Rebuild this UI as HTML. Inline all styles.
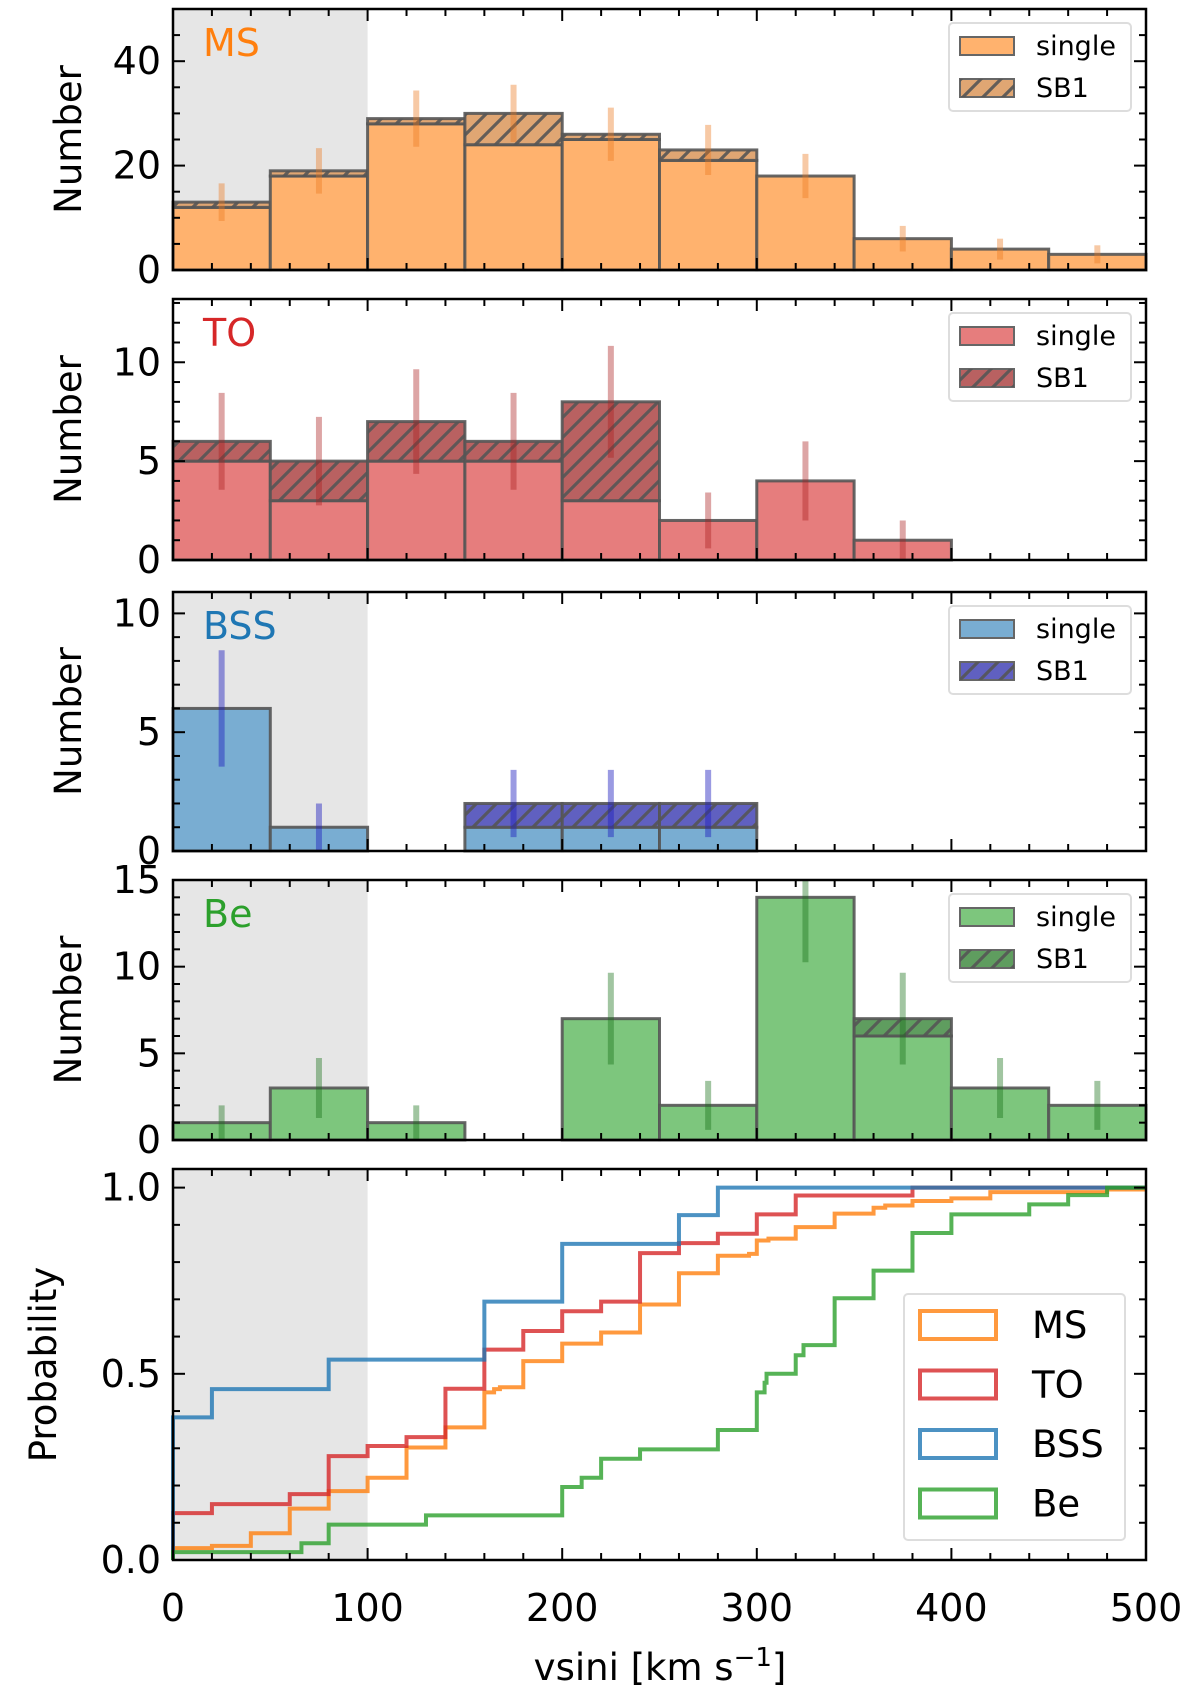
<!DOCTYPE html>
<html><head><meta charset="utf-8">
<style>
html,body{margin:0;padding:0;background:#fff;}
svg{display:block;font-family:"DejaVu Sans","Liberation Sans",sans-serif;}
</style></head>
<body>
<svg id="chart" width="1200" height="1700" viewBox="0 0 1200 1700" xmlns="http://www.w3.org/2000/svg">
<defs>
 <pattern id="hatch" patternUnits="userSpaceOnUse" width="20" height="20">
  <path d="M-5,5 L5,-5 M0,20 L20,0 M15,25 L25,15" stroke="#555" stroke-width="3.2" stroke-opacity="0.9"/>
 </pattern>
</defs>
</svg>
<script>
// ---- data ----
const binEdges = [0,50,100,150,200,250,300,350,400,450,500];
const msSingle = [12,18,28,24,25,21,18,6,4,3];
const msTotal  = [13,19,29,30,26,23,18,6,4,3];
const toSingle = [5,3,5,5,3,2,4,1,0,0];
const toTotal  = [6,5,7,6,8,2,4,1,0,0];
const bssSingle = [6,1,0,1,1,1,0,0,0,0];
const bssTotal  = [6,1,0,2,2,2,0,0,0,0];
const beSingle = [1,3,1,0,7,2,14,6,3,2];
const beTotal  = [1,3,1,0,7,2,14,7,3,2];
const xTicks = [0,100,200,300,400,500];
const cdfMSx = [0,20,40,60,80,100,120,140,160,165,168,180,200,220,240,260,280,296,300,306,320,340,360,366,380,400,420,480,500];
const cdfMSy = [0.032,0.038,0.072,0.138,0.185,0.221,0.302,0.356,0.45,0.459,0.464,0.534,0.581,0.611,0.686,0.77,0.817,0.822,0.858,0.863,0.894,0.93,0.946,0.952,0.964,0.971,0.988,0.995,0.995];
const cdfTOx = [0,20,60,80,100,120,140,160,180,200,220,240,260,280,300,320,380,500];
const cdfTOy = [0.126,0.15,0.177,0.279,0.306,0.33,0.46,0.565,0.615,0.668,0.694,0.824,0.851,0.876,0.928,0.979,1.0,1.0];
const cdfBSSx = [0,20,80,160,200,260,280,500];
const cdfBSSy = [0.383,0.459,0.538,0.694,0.849,0.926,1.0,1.0];
const cdfBEx = [0,66,80,130,200,210,220,240,280,300,304,305,320,324,340,360,380,400,440,460,480,500];
const cdfBEy = [0.021,0.045,0.095,0.12,0.196,0.221,0.272,0.297,0.349,0.45,0.476,0.5,0.55,0.577,0.703,0.777,0.878,0.928,0.955,0.98,1.0,1.0];

const svg = document.getElementById('chart');
const NS = 'http://www.w3.org/2000/svg';
function mk(tag, attrs, parent){ const e=document.createElementNS(NS,tag); for(const k in attrs) e.setAttribute(k,attrs[k]); (parent||svg).appendChild(e); return e; }
const X0=173, X1=1146, XMAX=500;
const sx = v => X0 + v/XMAX*(X1-X0);

const panels = [
 {key:'ms', label:'MS', color:'#ff7f0e', single:msSingle, total:msTotal, top:9, bot:270, ymax:50, major:[0,20,40], minor:5, fill:'#ffb26e', sb:'#e0a673', err:'rgba(235,120,30,0.4)', shade:true},
 {key:'to', label:'TO', color:'#d62728', single:toSingle, total:toTotal, top:299, bot:560, ymax:13.2, major:[0,5,10], minor:1, fill:'#e67d7d', sb:'#b96161', err:'rgba(170,30,30,0.4)', shade:false},
 {key:'bss', label:'BSS', color:'#1f77b4', single:bssSingle, total:bssTotal, top:592, bot:851, ymax:10.9, major:[0,5,10], minor:1, fill:'#79add2', sb:'#6060c0', err:'rgba(30,30,190,0.45)', shade:true},
 {key:'be', label:'Be', color:'#2ca02c', single:beSingle, total:beTotal, top:880, bot:1140, ymax:15, major:[0,5,10,15], minor:1, fill:'#7dc67d', sb:'#5f9d5f', err:'rgba(20,110,20,0.4)', shade:true}
];

function axisFrame(g, top, bot, ymax, major, minor, isBottom, fmt){
  const sy = v => bot - v/ymax*(bot-top);
  for(let v=0; v<=500; v+=20){
    const maj = v%100===0; const L = maj?12:7; const x=sx(v);
    mk('line',{x1:x,x2:x,y1:bot,y2:bot-L,stroke:'#000','stroke-width':2},g);
    mk('line',{x1:x,x2:x,y1:top,y2:top+L,stroke:'#000','stroke-width':2},g);
  }
  for(let v=0; v<=ymax+1e-9; v+=minor){
    const maj = major.some(m=>Math.abs(m-v)<1e-9); const L = maj?12:7; const y=sy(v);
    mk('line',{x1:X0,x2:X0+L,y1:y,y2:y,stroke:'#000','stroke-width':2},g);
    mk('line',{x1:X1,x2:X1-L,y1:y,y2:y,stroke:'#000','stroke-width':2},g);
  }
  major.forEach(m=>{
    const t=mk('text',{x:X0-12,y:sy(m)+13,'text-anchor':'end','font-size':38,fill:'#000'},g);
    t.textContent = fmt?fmt(m):String(m);
    
    
  });
  const fr = mk('rect',{x:X0,y:top,width:X1-X0,height:bot-top,fill:'none',stroke:'#000','stroke-width':2.5},g);
  
  
  return sy;
}

panels.forEach(p=>{
  const g = mk('g',{});
  
  
  const sy = v => p.bot - Math.min(v,p.ymax)/p.ymax*(p.bot-p.top);
  if(p.shade){
    const r=mk('rect',{x:X0,y:p.top,width:sx(100)-X0,height:p.bot-p.top,fill:'#e6e6e6'},g);
    
    
  }
  for(let i=0;i<p.single.length;i++){
    const xa=sx(binEdges[i]), xb=sx(binEdges[i+1]);
    if(p.total[i]===0){ continue; }
    if(p.single[i]>0){
      const r=mk('rect',{x:xa,y:sy(p.single[i]),width:xb-xa,height:sy(0)-sy(p.single[i]),fill:p.fill,stroke:'#555','stroke-opacity':0.9,'stroke-width':3},g);
      
      
    }
    if(p.total[i]>p.single[i]){
      const y1=sy(p.total[i]), y0=sy(p.single[i]);
      const r=mk('rect',{x:xa,y:y1,width:xb-xa,height:y0-y1,fill:p.sb,stroke:'#555','stroke-opacity':0.9,'stroke-width':3},g);
      
      
      mk('rect',{x:xa,y:y1,width:xb-xa,height:y0-y1,fill:'url(#hatch)'},g);
    }
  }
  for(let i=0;i<p.total.length;i++){
    if(p.total[i]===0) continue;
    const c=(binEdges[i]+binEdges[i+1])/2, e=Math.sqrt(p.total[i]);
    const ya=sy(p.total[i]+e), yb=sy(Math.max(0,p.total[i]-e));
    const l=mk('line',{x1:sx(c),x2:sx(c),y1:ya,y2:yb,stroke:p.err,'stroke-width':6},g);
    
    
  }
  axisFrame(g,p.top,p.bot,p.ymax,p.major,p.minor,false);
  const lab=mk('text',{x:X0+30,y:p.top+47,'font-size':38,fill:p.color},g);
  lab.textContent=p.label;
  
  
  const cy=(p.top+p.bot)/2;
  const yl=mk('text',{x:81,y:cy,'font-size':37,'text-anchor':'middle',transform:`rotate(-90 81 ${cy})`},g);
  yl.textContent='Number';
  
  
  const lg=mk('g',{},g);
  
  
  mk('rect',{x:949,y:p.top+14,width:182,height:88,rx:4,fill:'#fff','fill-opacity':0.85,stroke:'#ddd','stroke-width':2},lg);
  mk('rect',{x:960,y:p.top+28,width:54,height:18,fill:p.fill,stroke:'#666','stroke-width':2},lg);
  mk('rect',{x:960,y:p.top+70,width:54,height:18,fill:p.sb,stroke:'#666','stroke-width':2},lg);
  mk('rect',{x:960,y:p.top+70,width:54,height:18,fill:'url(#hatch)'},lg);
  const t1=mk('text',{x:1036,y:p.top+46,'font-size':27},lg); t1.textContent='single';
  
  
  const t2=mk('text',{x:1036,y:p.top+88,'font-size':27},lg); t2.textContent='SB1';
  
  
});

// ---- CDF panel ----
const cg = mk('g',{});


const CT=1169, CB=1560, CYMAX=1.05;
const csy = v => CB - v/CYMAX*(CB-CT);
const sh=mk('rect',{x:X0,y:CT,width:sx(100)-X0,height:CB-CT,fill:'#e6e6e6'},cg);


const series = [
 {name:'MS', xs:cdfMSx, ys:cdfMSy, color:'rgba(255,127,14,0.8)'},
 {name:'TO', xs:cdfTOx, ys:cdfTOy, color:'rgba(214,39,40,0.8)'},
 {name:'BSS', xs:cdfBSSx, ys:cdfBSSy, color:'rgba(31,119,180,0.8)'},
 {name:'Be', xs:cdfBEx, ys:cdfBEy, color:'rgba(44,160,44,0.8)'}
];
series.forEach(s=>{
  let d=`M${sx(s.xs[0])},${csy(0)} L${sx(s.xs[0])},${csy(s.ys[0])}`;
  for(let i=1;i<s.xs.length;i++){
    d+=` L${sx(s.xs[i])},${csy(s.ys[i-1])} L${sx(s.xs[i])},${csy(s.ys[i])}`;
  }
  const p=mk('path',{d:d,fill:'none',stroke:s.color,'stroke-width':4},cg);
  
  
});
axisFrame(cg,CT,CB,CYMAX,[0,0.5,1.0],0.1,true,v=>v.toFixed(1));
xTicks.forEach(v=>{
  const t=mk('text',{x:sx(v),y:1621,'text-anchor':'middle','font-size':38},cg);
  t.textContent=String(v);
  
  
});
const xl=mk('text',{x:660,y:1680,'text-anchor':'middle','font-size':37},cg);
xl.innerHTML='vsini [km s<tspan dy="-14" font-size="26">−1</tspan><tspan dy="14">]</tspan>';


const pcy=(CT+CB)/2;
const pl=mk('text',{x:56,y:pcy,'font-size':37,'text-anchor':'middle',transform:`rotate(-90 56 ${pcy})`},cg);
pl.textContent='Probability';


const blg=mk('g',{},cg);


mk('rect',{x:904,y:1294,width:221,height:246,rx:4,fill:'#fff','fill-opacity':0.85,stroke:'#ddd','stroke-width':2},blg);
series.forEach((s,i)=>{
  const y=1325+i*59.5;
  const r=mk('rect',{x:920,y:y-14,width:76,height:28,fill:'none',stroke:s.color,'stroke-width':4},blg);
  
  
  const t=mk('text',{x:1032,y:y+13,'font-size':37},blg);
  t.textContent=s.name;
  
  
});
</script>
</body></html>
